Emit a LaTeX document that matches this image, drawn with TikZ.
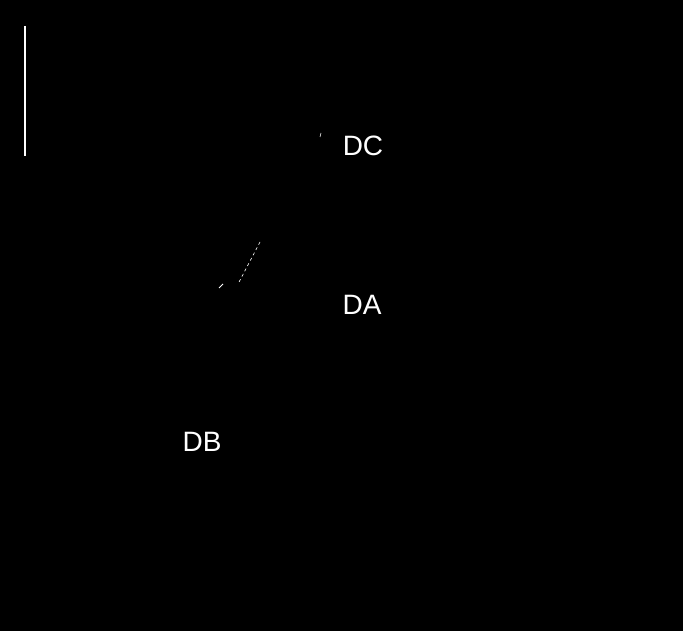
\documentclass[tikz,border=0pt]{standalone}
\usepackage{fontspec}
\setmainfont{Liberation Sans}
\begin{document}
\begin{tikzpicture}[x=1pt,y=-1pt,
  lbl/.style={text=white,font=\fontsize{28}{30}\selectfont,inner sep=0pt,anchor=center},
  faint/.style={draw=white,line width=0.6pt}]
\fill[black] (0,0) rectangle (683,631);
\useasboundingbox (0,0) rectangle (683,631);
\node[lbl] (dc) at (363,146) {DC};
\node[lbl] (da) at (362,305) {DA};
\node[lbl] (db) at (202,442) {DB};
\draw[white,line width=1.5pt] (25,26) -- (25,156);
\draw[faint] (321,133) -- (320,137);
\draw[faint,dash pattern=on 3pt off 3pt] (260,242) -- (238,284);
\draw[faint,line width=1pt] (219,288) -- (223,284);
\end{tikzpicture}
\end{document}
